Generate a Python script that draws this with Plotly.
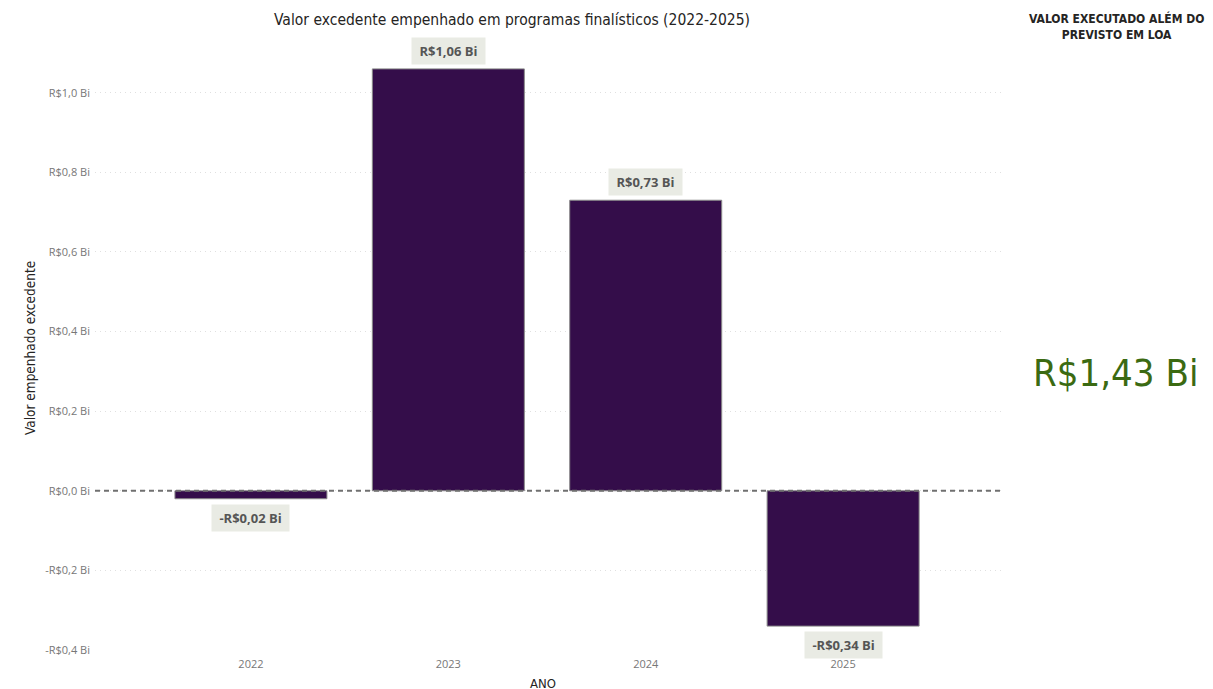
import plotly.graph_objects as go

anos = ["2022", "2023", "2024", "2025"]
valores = [-0.02, 1.06, 0.73, -0.34]
rotulos = ["-R$0,02 Bi", "R$1,06 Bi", "R$0,73 Bi", "-R$0,34 Bi"]
ytick_vals = [-0.4, -0.2, 0.0, 0.2, 0.4, 0.6, 0.8, 1.0]
ytick_text = ["-R$0,4 Bi", "-R$0,2 Bi", "R$0,0 Bi", "R$0,2 Bi", "R$0,4 Bi", "R$0,6 Bi", "R$0,8 Bi", "R$1,0 Bi"]
total = sum(valores)
total_txt = "R$" + f"{total:.2f}".replace(".", ",") + " Bi"

W, H = 1213, 689
OFF = 8  # page body margin offset
L, T = 95 - OFF, 45 - OFF
R = W - (1003 - OFF)
B = H - (650 - OFF)
PW, PH = W - L - R, H - T - B


def px(x):
    return (x - OFF - L) / PW


def py(y):
    return (H - B - (y - OFF)) / PH


fig = go.Figure()
fig.add_trace(go.Bar(
    x=list(range(len(anos))), y=valores, width=0.77,
    marker=dict(color="#340D4A", line=dict(color="#8a8a8a", width=1)),
    hoverinfo="skip", showlegend=False,
))

for i, (v, t) in enumerate(zip(valores, rotulos)):
    fig.add_annotation(
        x=i, y=v, xref="x", yref="y", text="<b>&nbsp;" + t + "&nbsp;</b>", showarrow=False,
        yshift=18 if v >= 0 else -19,
        font=dict(family="Open Sans", size=13, color="#555555"),
        bgcolor="#E9EBE4", borderpad=4,
    )

fig.add_shape(type="line", xref="paper", yref="y", x0=0, x1=1, y0=0, y1=0,
              line=dict(color="#707070", width=2, dash="5px,4px"), layer="above")

cond = "DejaVu Sans Condensed"
fig.add_annotation(text="Valor excedente empenhado em programas finalísticos (2022-2025)",
                   xref="paper", yref="paper", x=px(512), y=py(20),
                   showarrow=False, font=dict(family=cond, size=15.5, color="#252423"),
                   xanchor="center", yanchor="middle")
fig.add_annotation(text="Valor empenhado excedente", xref="paper", yref="paper",
                   x=px(30), y=py(348), textangle=-90,
                   showarrow=False, font=dict(family=cond, size=13.5, color="#252423"),
                   xanchor="center", yanchor="middle")
fig.add_annotation(text="ANO", xref="paper", yref="paper",
                   x=px(543), y=py(683),
                   showarrow=False, font=dict(family=cond, size=13, color="#252423"),
                   xanchor="center", yanchor="middle")
fig.add_annotation(text="<b>VALOR EXECUTADO ALÉM DO<br>PREVISTO EM LOA</b>", xref="paper", yref="paper",
                   x=px(1116), y=py(26),
                   showarrow=False, font=dict(family=cond, size=12, color="#252423"),
                   xanchor="center", yanchor="middle", align="center")
fig.add_annotation(text=total_txt, xref="paper", yref="paper",
                   x=px(1115), y=py(373),
                   showarrow=False, font=dict(family=cond, size=38, color="#3B6A12"),
                   xanchor="center", yanchor="middle")

fig.update_layout(
    width=W, height=H, margin=dict(l=L, r=R, t=T, b=B, autoexpand=False),
    paper_bgcolor="white", plot_bgcolor="white",
    xaxis=dict(tickvals=list(range(len(anos))), ticktext=anos, range=[-0.79, 3.81],
               showgrid=False, zeroline=False, showline=False, ticks="",
               ticklabelstandoff=6, automargin=False,
               tickfont=dict(family="Open Sans", size=11, color="#777777")),
    yaxis=dict(tickvals=ytick_vals, ticktext=ytick_text, range=[-0.4, 1.12],
               showgrid=True, gridcolor="#e0e0e0", griddash="1px,4px", gridwidth=1,
               zeroline=False, showline=False, ticks="", ticklabelstandoff=4, automargin=False,
               tickfont=dict(family="Open Sans", size=11, color="#777777")),
    bargap=0.2,
)

fig.write_html("out.html")
